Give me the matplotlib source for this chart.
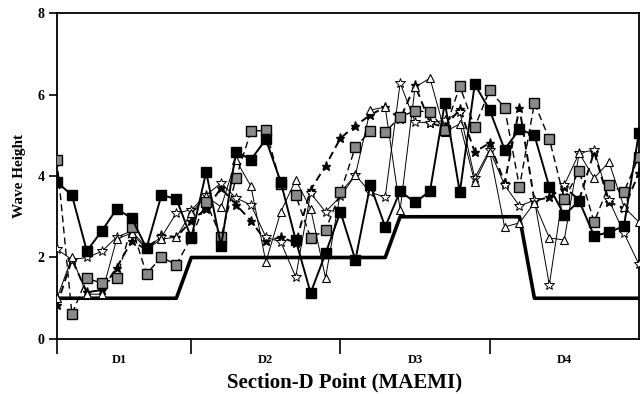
import matplotlib
import numpy as np

matplotlib.use("Agg")
import matplotlib.pyplot as plt

# Points along section D (1..40), grouped in D1..D4
points = np.arange(1, 41)
section_names = ["D1", "D2", "D3", "D4"]
section_centres = [5.2, 15.0, 25.0, 35.0]
section_bounds = [1, 10, 20, 30]

# Thick step line (reference level)
reference = [1] * 9 + [2] * 14 + [3] * 9 + [1] * 8

# Filled black squares, solid line
black_sq = [3.85, 3.53, 2.16, 2.65, 3.19, 2.97, 2.23, 3.53, 3.44, 2.48,
            4.10, 2.28, 4.60, 4.40, 4.90, 3.85, 2.43, 1.13, 2.10, 3.12,
            1.94, 3.78, 2.75, 3.63, 3.35, 3.63, 5.80, 3.60, 6.25, 5.62,
            4.65, 5.15, 5.00, 3.73, 3.04, 3.39, 2.53, 2.62, 2.77, 5.05]

# Grey squares, dashed line
grey_sq = [4.39, 0.61, 1.49, 1.37, 1.49, 2.75, 1.60, 2.01, 1.82, 2.50,
           3.36, 2.50, 3.95, 5.10, 5.12, 3.80, 3.53, 2.48, 2.67, 3.60,
           4.71, 5.10, 5.08, 5.45, 5.60, 5.57, 5.13, 6.20, 5.20, 6.11,
           5.68, 3.73, 5.79, 4.91, 3.44, 4.12, 2.87, 3.78, 3.61, 4.47]

# Open triangles, thin solid line
triangles = [1.00, 2.00, 1.10, 1.10, 2.45, 2.60, 2.20, 2.45, 2.50, 3.10,
             3.50, 3.24, 4.39, 3.75, 1.89, 3.12, 3.90, 3.20, 1.50, 3.60,
             4.02, 5.62, 5.69, 3.17, 6.18, 6.40, 5.08, 5.28, 3.85, 4.60,
             2.75, 2.85, 3.34, 2.48, 2.43, 4.56, 3.95, 4.34, 3.24, 2.87]

# Stars, thin solid line
stars_solid = [2.20, 1.95, 2.00, 2.15, 2.50, 2.65, 2.25, 2.50, 3.09, 3.17,
               3.53, 3.83, 3.46, 3.29, 2.50, 2.38, 1.52, 3.58, 3.12, 3.50,
               4.02, 3.60, 3.48, 6.28, 5.33, 5.30, 5.37, 5.57, 3.95, 4.64,
               3.78, 3.26, 3.41, 1.33, 3.78, 4.56, 4.64, 3.41, 2.60, 1.84]

# Stars, thick dashed line
stars_dashed = [0.83, 1.95, 1.15, 1.20, 1.75, 2.40, 2.20, 2.55, 2.50, 2.90,
                3.20, 3.70, 3.30, 2.90, 2.40, 2.50, 2.36, 3.66, 4.25, 4.93,
                5.23, 5.50, 5.69, 5.40, 6.23, 5.30, 5.20, 5.64, 4.59, 4.81,
                3.83, 5.67, 3.39, 3.48, 3.73, 3.41, 4.59, 3.36, 3.21, 4.07]

plt.rcParams["font.family"] = ["Liberation Serif", "DejaVu Serif"]
plt.rcParams["font.weight"] = "bold"

fig = plt.figure(figsize=(6.44, 3.94), dpi=100)
ax = fig.add_axes([0.0885, 0.1396, 0.9035, 0.8274])

ax.plot(points, reference, color="black", linewidth=2.6, zorder=2)
ax.plot(points, stars_dashed, color="black", linestyle=(0, (4, 2.5)), linewidth=1.4,
        marker="*", markersize=6.5, markerfacecolor="black", zorder=3)
ax.plot(points, stars_solid, color="black", linestyle="-", linewidth=0.7,
        marker="*", markersize=7, markerfacecolor="white", markeredgewidth=0.7, zorder=3)
ax.plot(points, triangles, color="black", linestyle="-", linewidth=0.7,
        marker="^", markersize=6, markerfacecolor="white", markeredgewidth=0.8, zorder=3)
ax.plot(points, grey_sq, color="black", linestyle=(0, (5, 3)), linewidth=1.0,
        marker="s", markersize=6.5, markerfacecolor="#8a8a8a", markeredgecolor="black",
        markeredgewidth=1.0, zorder=4)
ax.plot(points, black_sq, color="black", linestyle="-", linewidth=1.4,
        marker="s", markersize=7, markerfacecolor="black", zorder=5)

ax.set_xlim(1, 40)
ax.set_ylim(0, 8)
ax.set_yticks([0, 2, 4, 6, 8])
ax.set_xticks(section_bounds)
ax.set_xticklabels([])
ax.tick_params(axis="x", direction="out", length=11, width=1.2)
ax.tick_params(axis="y", direction="out", length=6, width=1.2, labelsize=10, pad=3)
for lab in ax.get_yticklabels():
    lab.set_fontweight("bold")
for side in ("left", "right", "top", "bottom"):
    ax.spines[side].set_linewidth(1.3)

for name, xc in zip(section_names, section_centres):
    ax.text(xc, -0.045, name, transform=ax.get_xaxis_transform(),
            ha="center", va="top", fontsize=9, fontweight="bold")

ax.set_ylabel("Wave Height", fontsize=11, fontweight="bold", labelpad=8)
fig.text(0.535, 0.028, "Section-D Point (MAEMI)", ha="center", va="center",
         fontsize=15, fontweight="bold")

fig.savefig("out.png", dpi=100)
plt.close(fig)
